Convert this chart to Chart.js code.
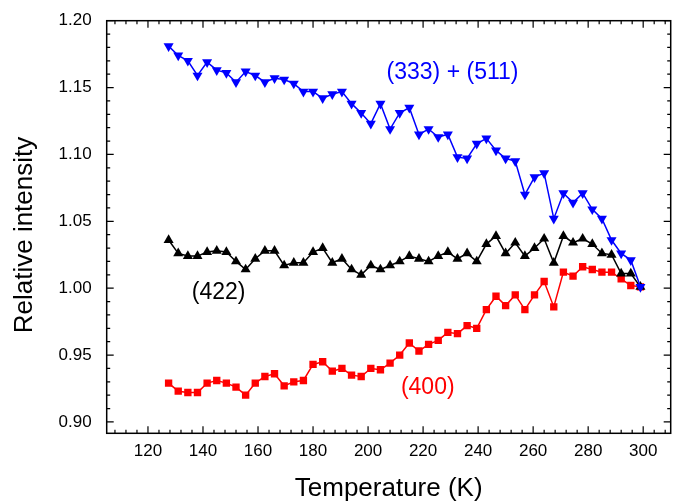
<!DOCTYPE html>
<html>
<head>
<meta charset="utf-8">
<script src="https://cdn.jsdelivr.net/npm/chart.js@4.4.1/dist/chart.umd.min.js"></script>
<style>
  html, body { margin: 0; padding: 0; background: #fff; }
  canvas { display: block; }
</style>
</head>
<body>
<canvas id="myChart" width="678" height="504"></canvas>
<script>
// temperature (K)
var temps = [127.5, 131, 134.5, 138, 141.5, 145, 148.5, 152, 155.5, 159,
             162.5, 166, 169.5, 173, 176.5, 180, 183.5, 187, 190.5, 194,
             197.5, 201, 204.5, 208, 211.5, 215, 218.5, 222, 225.5, 229,
             232.5, 236, 239.5, 243, 246.5, 250, 253.5, 257, 260.5, 264,
             267.5, 271, 274.5, 278, 281.5, 285, 288.5, 292, 295.5, 299];

// (333) + (511)
var int333 = [1.181, 1.174, 1.170, 1.159, 1.169, 1.163, 1.161, 1.154, 1.162, 1.159,
              1.154, 1.157, 1.156, 1.153, 1.147, 1.147, 1.142, 1.145, 1.147, 1.138,
              1.131, 1.123, 1.138, 1.119, 1.131, 1.135, 1.115, 1.119, 1.113, 1.115,
              1.098, 1.097, 1.108, 1.112, 1.103, 1.097, 1.095, 1.070, 1.083, 1.086,
              1.052, 1.071, 1.064, 1.071, 1.059, 1.052, 1.036, 1.026, 1.021, 1.001];

// (422)
var int422 = [1.036, 1.026, 1.024, 1.024, 1.027, 1.028, 1.027, 1.020, 1.014, 1.022,
              1.028, 1.028, 1.017, 1.019, 1.019, 1.027, 1.030, 1.019, 1.022, 1.014,
              1.010, 1.017, 1.014, 1.017, 1.020, 1.024, 1.022, 1.020, 1.024, 1.027,
              1.022, 1.026, 1.020, 1.033, 1.039, 1.026, 1.034, 1.024, 1.030, 1.037,
              1.019, 1.039, 1.034, 1.037, 1.033, 1.026, 1.025, 1.011, 1.011, 1.001];

// (400)
var int400 = [0.929, 0.923, 0.922, 0.922, 0.929, 0.931, 0.929, 0.926, 0.920, 0.929,
              0.934, 0.936, 0.927, 0.930, 0.931, 0.943, 0.945, 0.938, 0.940, 0.935,
              0.934, 0.940, 0.939, 0.944, 0.950, 0.959, 0.953, 0.958, 0.961, 0.967,
              0.966, 0.972, 0.970, 0.984, 0.994, 0.987, 0.995, 0.984, 0.995, 1.005,
              0.986, 1.012, 1.009, 1.016, 1.014, 1.012, 1.012, 1.007, 1.002, 1.001];

var xTicks = [120, 140, 160, 180, 200, 220, 240, 260, 280, 300];
var yTicks = [0.90, 0.95, 1.00, 1.05, 1.10, 1.15, 1.20];

var FONT = '"Liberation Sans", Arial, Helvetica, sans-serif';

function toXY(vals) {
    return temps.map(function (t, i) { return { x: t, y: vals[i] }; });
}

// box round the plot with inward ticks on all four sides
var framePlugin = {
    id: 'frame',
    beforeDatasetsDraw: function (chart) {
        var ctx = chart.ctx, a = chart.chartArea;
        var xs = chart.scales.x, ys = chart.scales.y;
        ctx.save();
        ctx.strokeStyle = '#000';
        ctx.lineWidth = 1.5;
        ctx.strokeRect(a.left, a.top, a.right - a.left, a.bottom - a.top);
        ctx.lineWidth = 1.2;
        ctx.beginPath();
        for (var t = 108; t <= 308; t += 4) {
            var px = xs.getPixelForValue(t);
            var len = (t % 20 === 0) ? 7 : 3.5;
            ctx.moveTo(px, a.bottom); ctx.lineTo(px, a.bottom - len);
            ctx.moveTo(px, a.top); ctx.lineTo(px, a.top + len);
        }
        for (var k = 90; k <= 120; k++) {
            var py = ys.getPixelForValue(k / 100);
            var len2 = (k % 5 === 0) ? 7 : 3.5;
            ctx.moveTo(a.left, py); ctx.lineTo(a.left + len2, py);
            ctx.moveTo(a.right, py); ctx.lineTo(a.right - len2, py);
        }
        ctx.stroke();
        ctx.restore();
    }
};

// y title and the series labels
var textPlugin = {
    id: 'texts',
    afterDatasetsDraw: function (chart) {
        var ctx = chart.ctx, xs = chart.scales.x, ys = chart.scales.y;
        ctx.save();
        ctx.textAlign = 'center';
        ctx.textBaseline = 'middle';

        ctx.font = '26px ' + FONT;
        ctx.fillStyle = '#000';
        ctx.translate(25, 235);
        ctx.rotate(-Math.PI / 2);
        ctx.fillText('Relative intensity', 0, 0);
        ctx.setTransform(1, 0, 0, 1, 0, 0);

        ctx.font = '23px ' + FONT;
        var notes = [
            { text: '(333) + (511)', t: 230.7, v: 1.161, color: '#0000ff' },
            { text: '(422)', t: 145.7, v: 0.9965, color: '#000000' },
            { text: '(400)', t: 221.7, v: 0.9259, color: '#ff0000' }
        ];
        notes.forEach(function (n) {
            ctx.fillStyle = n.color;
            ctx.fillText(n.text, xs.getPixelForValue(n.t), ys.getPixelForValue(n.v));
        });
        ctx.restore();
    }
};

var ctx = document.getElementById('myChart');

var chart = new Chart(ctx, {
    type: 'line',
    data: {
        datasets: [{
            label: '(333) + (511)',
            data: toXY(int333),
            borderColor: '#0000ff',
            backgroundColor: '#0000ff',
            pointStyle: 'triangle',
            pointRotation: 180,
            pointRadius: 5.8,
            borderWidth: 1.5,
            pointBorderWidth: 0
        }, {
            label: '(422)',
            data: toXY(int422),
            borderColor: '#000000',
            backgroundColor: '#000000',
            pointStyle: 'triangle',
            pointRadius: 5.8,
            borderWidth: 1.5,
            pointBorderWidth: 0
        }, {
            label: '(400)',
            data: toXY(int400),
            borderColor: '#ff0000',
            backgroundColor: '#ff0000',
            pointStyle: 'rect',
            pointRadius: 5.2,
            borderWidth: 1.5,
            pointBorderWidth: 0
        }]
    },
    options: {
        responsive: false,
        animation: false,
        devicePixelRatio: 1,
        layout: { padding: { top: 20.7, right: 7.3, left: 0, bottom: 0 } },
        plugins: {
            legend: { display: false },
            tooltip: { enabled: false }
        },
        elements: { line: { tension: 0 } },
        scales: {
            x: {
                type: 'linear',
                position: 'bottom',
                min: 105,
                max: 310,
                grid: { display: false },
                border: { display: false },
                afterBuildTicks: function (s) { s.ticks = xTicks.map(function (v) { return { value: v }; }); },
                afterFit: function (s) { s.height = 70.7; },
                ticks: {
                    color: '#000',
                    padding: 0,
                    maxRotation: 0,
                    font: { family: FONT, size: 17 },
                    callback: function (v) { return String(v); }
                },
                title: {
                    display: true,
                    text: 'Temperature (K)',
                    color: '#000',
                    font: { family: FONT, size: 26 },
                    padding: { top: 0, bottom: 0 }
                }
            },
            y: {
                type: 'linear',
                min: 0.8915,
                max: 1.20,
                grid: { display: false },
                border: { display: false },
                afterBuildTicks: function (s) { s.ticks = yTicks.map(function (v) { return { value: v }; }); },
                afterFit: function (s) { s.width = 106.7; },
                ticks: {
                    color: '#000',
                    padding: 7,
                    font: { family: FONT, size: 17 },
                    callback: function (v) { return v.toFixed(2); }
                }
            }
        }
    },
    plugins: [framePlugin, textPlugin]
});
</script>
</body>
</html>
